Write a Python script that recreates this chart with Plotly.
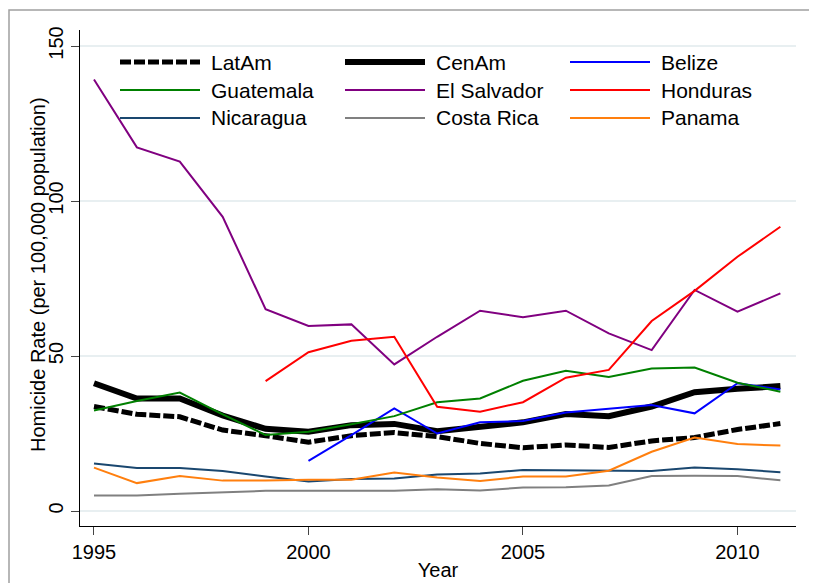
import plotly.graph_objects as go

years = list(range(1995, 2012))

latam = [33.7, 31.2, 30.4, 26.1, 24.3, 22.2, 24.3, 25.3, 24.0, 21.8, 20.4, 21.3, 20.5, 22.6, 23.7, 26.3, 28.2]
cenam = [41.2, 36.3, 36.3, 30.8, 26.5, 25.6, 27.7, 28.1, 25.7, 27.2, 28.6, 31.3, 30.6, 33.7, 38.3, 39.4, 40.3]
belize = [None, None, None, None, None, 16.2, 24.5, 33.1, 25.0, 28.6, 29.0, 31.8, 33.1, 34.2, 31.5, 41.2, 39.2]
guatemala = [32.4, 35.5, 38.2, 31.2, 24.5, 25.6, 28.0, 30.6, 35.1, 36.3, 42.0, 45.2, 43.2, 46.0, 46.3, 41.4, 38.5]
el_salvador = [139.2, 117.3, 112.7, 94.9, 65.1, 59.7, 60.2, 47.3, 56.2, 64.6, 62.5, 64.6, 57.3, 51.9, 71.3, 64.3, 70.2]
honduras = [None, None, None, None, 41.9, 51.2, 54.9, 56.2, 33.6, 32.0, 35.1, 43.0, 45.5, 61.3, 71.0, 82.0, 91.7]
nicaragua = [15.3, 13.9, 13.9, 12.9, 11.1, 9.5, 10.3, 10.5, 11.8, 12.1, 13.2, 13.1, 12.9, 12.9, 14.0, 13.5, 12.5]
costa_rica = [5.0, 5.0, 5.6, 6.0, 6.5, 6.5, 6.5, 6.5, 7.0, 6.6, 7.6, 7.7, 8.2, 11.3, 11.4, 11.3, 9.9]
panama = [14.0, 9.0, 11.3, 9.8, 9.8, 10.1, 10.1, 12.4, 10.8, 9.7, 11.1, 11.1, 13.0, 19.1, 23.7, 21.6, 21.1]

x_ticks = [1995, 2000, 2005, 2010]
y_ticks = [0, 50, 100, 150]

series = [
    ("LatAm", latam, "#000000", 5, "11px,3px"),
    ("CenAm", cenam, "#000000", 6, "solid"),
    ("Belize", belize, "#0000ff", 2, "solid"),
    ("Guatemala", guatemala, "#008000", 2, "solid"),
    ("El Salvador", el_salvador, "#800080", 2, "solid"),
    ("Honduras", honduras, "#ff0000", 2, "solid"),
    ("Nicaragua", nicaragua, "#1a476f", 2, "solid"),
    ("Costa Rica", costa_rica, "#808080", 2, "solid"),
    ("Panama", panama, "#ff7f0e", 2, "solid"),
]

W, H = 817, 583
OFF = 8  # page body margin
L, R, T, B = 72, 29, 22, 65
pw, ph = W - L - R, H - T - B

def px(xs):
    return (xs - OFF - L) / pw

def py(ys):
    return (H - B - (ys - OFF)) / ph

fig = go.Figure()
for name, vals, color, width, dash in series:
    fig.add_trace(go.Scatter(
        x=years, y=vals, mode="lines", name=name,
        line=dict(color=color, width=width, dash=dash),
        connectgaps=False, showlegend=False,
    ))

# custom legend (3 columns x 3 rows)
col_sym = [120, 345, 570]
sym_len = 80
text_gap = 9
row_y = [62, 90, 118]
shapes = []
annotations = []
for i, (name, vals, color, width, dash) in enumerate(series):
    r, c = divmod(i, 3)
    x0 = col_sym[c]
    shapes.append(dict(
        type="line", xref="paper", yref="paper",
        x0=px(x0), x1=px(x0 + sym_len), y0=py(row_y[r]), y1=py(row_y[r]),
        line=dict(color=color, width=width, dash=dash),
    ))
    annotations.append(dict(
        xref="paper", yref="paper", x=px(x0 + sym_len + text_gap), y=py(row_y[r]),
        text=name, showarrow=False, xanchor="left", yanchor="middle",
        font=dict(size=21, color="#000000"),
    ))

# y-axis title placed as annotation
annotations.append(dict(
    xref="paper", yref="paper", x=px(38), y=py(275),
    text="Homicide Rate (per 100,000 population)", textangle=-90,
    showarrow=False, xanchor="center", yanchor="middle",
    font=dict(size=20, color="#000000"),
))

# outer frame
shapes.append(dict(
    type="rect", xref="paper", yref="paper",
    x0=px(9), x1=px(816), y0=py(600), y1=py(10),
    line=dict(color="#a0a0a0", width=1.5), fillcolor="rgba(0,0,0,0)", layer="below",
))

fig.update_layout(
    width=W, height=H,
    margin=dict(l=L, r=R, t=T, b=B, autoexpand=False),
    paper_bgcolor="white", plot_bgcolor="white",
    font=dict(family="Liberation Sans, Arial, sans-serif", size=20, color="#000000"),
    shapes=shapes, annotations=annotations,
    showlegend=False,
)
fig.update_xaxes(
    range=[1994.674, 2011.364], tickvals=x_ticks, ticktext=[str(v) for v in x_ticks],
    showgrid=False, zeroline=False, showline=True, linecolor="#000000", linewidth=1.3,
    ticks="outside", ticklen=8, tickcolor="#444444", tickwidth=1,
    tickfont=dict(size=20), automargin=False,
    title=dict(text="Year", font=dict(size=20), standoff=0),
)
fig.update_yaxes(
    range=[-4.84, 155.16], tickvals=y_ticks, ticktext=[str(v) for v in y_ticks],
    showgrid=True, gridcolor="#e8eff1", gridwidth=1.5, zeroline=False,
    showline=True, linecolor="#000000", linewidth=1.3,
    ticks="outside", ticklen=8, tickcolor="#444444", tickwidth=1,
    tickangle=-90, tickfont=dict(size=20), automargin=False,
)

fig.write_html("out.html")
